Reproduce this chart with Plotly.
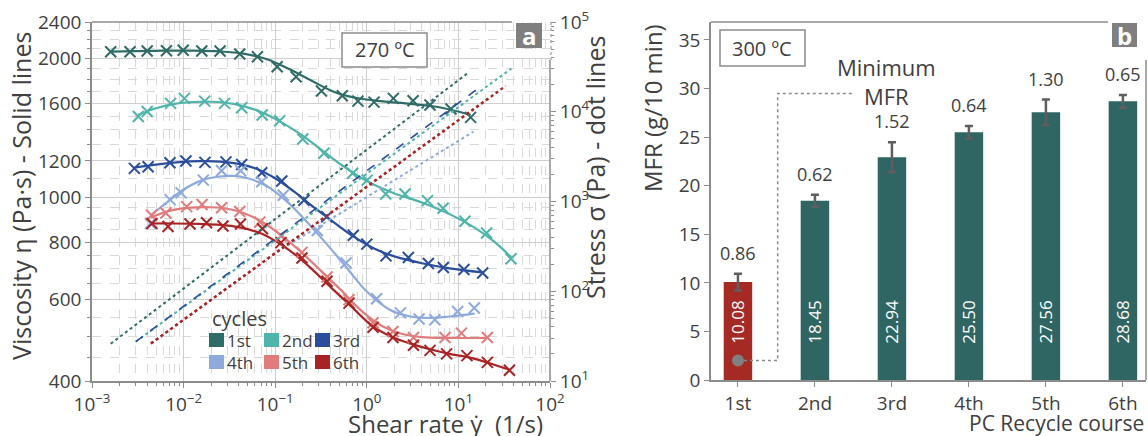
import plotly.graph_objects as go
import numpy as np

W, H = 1148, 436

# ---------------- Panel a: viscosity (markers = measured, lines = smooth fit) ----------------
cycles = ["1st", "2nd", "3rd", "4th", "5th", "6th"]
colors = ["#2f6b67", "#4fb4aa", "#2b4e9c", "#8eaadc", "#e07c7c", "#a82424"]

c1_x = [0.0016, 0.0026, 0.0040, 0.0065, 0.0099, 0.0158, 0.025, 0.041, 0.064, 0.105, 0.169, 0.32, 0.54, 0.80, 1.2, 1.95, 3.2, 4.9, 8.3, 13.6]
c1_eta = [2069, 2069, 2076, 2080, 2084, 2076, 2076, 2046, 2018, 1920, 1826, 1701, 1661, 1617, 1609, 1639, 1620, 1586, 1554, 1491]
c2_x = [0.0032, 0.0040, 0.0072, 0.0102, 0.017, 0.028, 0.043, 0.072, 0.112, 0.20, 0.34, 0.70, 1.01, 1.61, 2.61, 4.59, 6.8, 11.8, 20.3, 37.5]
c2_eta = [1497, 1535, 1599, 1639, 1617, 1599, 1565, 1509, 1466, 1338, 1247, 1128, 1090, 1017, 1017, 984, 947, 888, 837, 736]
c3_x = [0.0029, 0.0041, 0.0071, 0.0106, 0.0171, 0.029, 0.0431, 0.0713, 0.118, 0.206, 0.365, 0.713, 1.0, 1.62, 2.84, 4.7, 6.85, 11.5, 18.4]
c3_eta = [1156, 1165, 1189, 1199, 1191, 1194, 1179, 1131, 1085, 986, 908, 828, 792, 747, 741, 719, 705, 698, 686]
c4_x = [0.00435, 0.0071, 0.0094, 0.0164, 0.026, 0.042, 0.0713, 0.1225, 0.288, 0.593, 1.28, 2.33, 3.72, 5.53, 9.82, 14.9]
c4_eta = [878, 989, 1023, 1090, 1142, 1142, 1081, 1011, 848, 721, 603, 562, 545, 543, 566, 576]
c5_x = [0.00447, 0.0064, 0.0108, 0.0159, 0.026, 0.041, 0.068, 0.116, 0.196, 0.368, 0.64, 1.17, 1.93, 3.23, 7.14, 10.8, 20.7]
c5_eta = [915, 925, 955, 965, 950, 932, 884, 825, 760, 672, 600, 535, 512, 497, 497, 508, 497]
c6_x = [0.00452, 0.00676, 0.01175, 0.0178, 0.0269, 0.0418, 0.0726, 0.1156, 0.196, 0.368, 0.64, 1.17, 1.93, 3.23, 4.9, 7.43, 12.4, 20.7, 36.1]
c6_eta = [878, 865, 876, 881, 867, 876, 855, 798, 739, 658, 590, 523, 497, 478, 466, 458, 454, 439, 422]

f1_x = [0.0016, 0.003, 0.006, 0.012, 0.025, 0.045, 0.08, 0.14, 0.25, 0.45, 0.8, 1.5, 3, 6, 13.6]
f1_eta = [2070, 2075, 2080, 2080, 2072, 2050, 1995, 1900, 1790, 1690, 1640, 1615, 1595, 1570, 1510]
f2_x = [0.0032, 0.005, 0.008, 0.013, 0.02, 0.035, 0.06, 0.1, 0.18, 0.3, 0.5, 1, 2, 4, 8, 15, 25, 38]
f2_eta = [1510, 1560, 1595, 1610, 1612, 1595, 1550, 1480, 1380, 1280, 1185, 1085, 1020, 975, 920, 860, 800, 740]
f3_x = [0.0029, 0.005, 0.009, 0.015, 0.025, 0.04, 0.065, 0.1, 0.16, 0.25, 0.4, 0.7, 1.2, 2, 4, 8, 18.4]
f3_eta = [1160, 1178, 1192, 1198, 1196, 1182, 1150, 1100, 1030, 960, 895, 825, 775, 745, 720, 702, 688]
f4_x = [0.0044, 0.007, 0.01, 0.016, 0.025, 0.035, 0.05, 0.08, 0.13, 0.2, 0.35, 0.6, 1.0, 1.8, 3, 5, 8, 15]
f4_eta = [915, 985, 1040, 1090, 1110, 1113, 1100, 1060, 985, 905, 800, 705, 625, 570, 552, 548, 552, 560]
f5_x = [0.0044, 0.007, 0.012, 0.02, 0.03, 0.045, 0.07, 0.11, 0.18, 0.3, 0.5, 0.9, 1.5, 2.5, 4, 8, 20.7]
f5_eta = [905, 935, 950, 952, 945, 925, 888, 835, 770, 700, 635, 565, 525, 505, 498, 496, 496]
f6_x = [0.0045, 0.008, 0.015, 0.025, 0.04, 0.065, 0.1, 0.16, 0.25, 0.4, 0.65, 1.1, 1.8, 3, 5, 8, 13, 22, 36]
f6_eta = [878, 878, 876, 872, 862, 840, 805, 755, 700, 640, 585, 530, 500, 482, 468, 458, 450, 437, 423]

# stress (dotted lines, right axis)
s1_x, s1_sig = [0.0016, 12.4], [26, 26500]
s2_x, s2_sig = [0.003, 37.8], [27.4, 30200]
s3_x, s3_sig = [0.003, 17.9], [27.4, 19400]
s4_x, s4_sig = [0.0044, 0.105, 14.6], [26.2, 274, 6000]
s5_x, s5_sig = [0.0044, 20.7], [26.2, 13800]
s6_x, s6_sig = [0.0044, 32.8], [26.2, 19400]

eta_ticks = [400, 600, 800, 1000, 1200, 1600, 2000, 2400]
x_ticks = [1e-3, 1e-2, 1e-1, 1e0, 1e1, 1e2]
x_ticktext = ["10<sup>−3</sup>", "10<sup>−2</sup>", "10<sup>−1</sup>", "10<sup>0</sup>", "10<sup>1</sup>", "10<sup>2</sup>"]
sig_ticks = [1e1, 1e2, 1e3, 1e4, 1e5]
sig_ticktext = ["10<sup>1</sup>", "10<sup>2</sup>", "10<sup>3</sup>", "10<sup>4</sup>", "10<sup>5</sup>"]

# ---------------- Panel b: MFR ----------------
mfr_cat = ["1st", "2nd", "3rd", "4th", "5th", "6th"]
mfr_val = [10.08, 18.45, 22.94, 25.50, 27.56, 28.68]
mfr_err = [0.86, 0.62, 1.52, 0.64, 1.30, 0.65]
mfr_colors = ["#a52a24", "#2f6663", "#2f6663", "#2f6663", "#2f6663", "#2f6663"]
min_path_x = [0, 0.516, 0.516, 1.48]
min_path_y = [2, 2, 29.5, 29.5]

TXT = "#404040"
AX = "#8c8c8c"
FONT = "Open Sans"

def px(x):
    return x / W

def py(y):
    return 1 - y / H

fig = go.Figure()

fits = [(f1_x, f1_eta), (f2_x, f2_eta), (f3_x, f3_eta), (f4_x, f4_eta), (f5_x, f5_eta), (f6_x, f6_eta)]
meas = [(c1_x, c1_eta), (c2_x, c2_eta), (c3_x, c3_eta), (c4_x, c4_eta), (c5_x, c5_eta), (c6_x, c6_eta)]
stress = [(s1_x, s1_sig), (s2_x, s2_sig), (s3_x, s3_sig), (s4_x, s4_sig), (s5_x, s5_sig), (s6_x, s6_sig)]
dashes = ["dot", "dot", "dash", "dot", "dot", "dot"]
swidth = [2, 2, 1.6, 2, 2.4, 2.4]

for i in range(6):
    fx, fy = fits[i]
    fig.add_trace(go.Scatter(x=fx, y=fy, mode="lines", line=dict(color=colors[i], width=2.2, shape="spline", smoothing=1.0),
                             xaxis="x", yaxis="y", hoverinfo="skip"))
for i in range(6):
    mx, my = meas[i]
    fig.add_trace(go.Scatter(x=mx, y=my, mode="markers",
                             marker=dict(symbol="x-thin", size=11, color=colors[i], line=dict(width=2, color=colors[i])),
                             xaxis="x", yaxis="y", name=cycles[i]))
for i in [0, 1, 3, 4, 5, 2]:
    sx, sy = stress[i]
    fig.add_trace(go.Scatter(x=sx, y=sy, mode="lines", line=dict(color=colors[i], width=swidth[i], dash=dashes[i]),
                             xaxis="x", yaxis="y2", hoverinfo="skip"))

# bars
fig.add_trace(go.Bar(x=list(range(6)), y=mfr_val, width=0.37, marker=dict(color=mfr_colors, line=dict(width=0)),
                     error_y=dict(type="data", array=mfr_err, visible=True, color="#5e5e5e", thickness=2.5, width=4),
                     xaxis="x3", yaxis="y3"))
fig.add_trace(go.Scatter(x=min_path_x, y=min_path_y, mode="lines", line=dict(color="#8a8a8a", width=1.5, dash="dot"),
                         xaxis="x3", yaxis="y3", hoverinfo="skip"))
fig.add_trace(go.Scatter(x=[min_path_x[0]], y=[min_path_y[0]], mode="markers", marker=dict(size=12, color="#808080"),
                         xaxis="x3", yaxis="y3", hoverinfo="skip"))

x_minor = [k * 10.0 ** d for d in range(-3, 2) for k in range(2, 10)]
eta_minor = [v for v in list(range(450, 1000, 50)) + list(range(1100, 2400, 100)) if v not in eta_ticks]
sig_minor = [k * 10.0 ** d for d in range(1, 5) for k in range(2, 10)]

tickfont = dict(family=FONT, size=19, color=TXT)

fig.update_layout(
    width=W, height=H, margin=dict(l=0, r=0, t=0, b=0, autoexpand=False),
    paper_bgcolor="white", plot_bgcolor="white", showlegend=False,
    font=dict(family=FONT, size=19, color=TXT),
    xaxis=dict(type="log", range=[-3, 2], domain=[px(92), px(550)], anchor="y", automargin=False,
               tickvals=x_ticks, ticktext=x_ticktext, tickfont=tickfont,
               ticks="outside", ticklen=5, tickcolor=AX, showline=True, linecolor=AX, linewidth=1.5,
               showgrid=True, gridcolor="#cfcfcf", gridwidth=1, zeroline=False,
               minor=dict(tickvals=x_minor, ticks="outside", ticklen=3, tickcolor=AX, showgrid=True,
                          gridcolor="#d9d9d9", griddash="dash")),
    yaxis=dict(type="log", range=[np.log10(400), np.log10(2400)], domain=[py(381), py(22)], anchor="x", automargin=False,
               tickvals=eta_ticks, ticktext=[str(v) for v in eta_ticks], tickfont=tickfont,
               ticks="outside", ticklen=5, tickcolor=AX, showline=True, linecolor=AX, linewidth=1.5,
               showgrid=True, gridcolor="#cfcfcf", gridwidth=1, zeroline=False,
               minor=dict(tickvals=eta_minor, ticks="outside", ticklen=3, tickcolor=AX, showgrid=True,
                          gridcolor="#d9d9d9", griddash="dash")),
    yaxis2=dict(type="log", range=[1, 5], overlaying="y", side="right", anchor="x", automargin=False,
                tickvals=sig_ticks, ticktext=sig_ticktext, tickfont=tickfont,
                ticks="outside", ticklen=5, tickcolor=AX, showline=False, showgrid=False, zeroline=False,
                minor=dict(tickvals=sig_minor, ticks="outside", ticklen=3, tickcolor=AX, showgrid=False)),
    xaxis3=dict(range=[-0.35, 5.3], domain=[px(711), px(1146)], anchor="y3", automargin=False,
                tickvals=list(range(6)), ticktext=mfr_cat, tickfont=tickfont,
                ticks="outside", ticklen=5, tickcolor=AX, showline=True, linecolor=AX, linewidth=1.5,
                showgrid=False, zeroline=False),
    yaxis3=dict(range=[0, 36.85], domain=[py(380), py(22)], anchor="x3", dtick=5, tickfont=tickfont, automargin=False,
                ticks="outside", ticklen=5, tickcolor=AX, showline=True, linecolor=AX, linewidth=1.5,
                showgrid=False, zeroline=False),
)

shapes = []
ann = []

def line_px(x0, y0, x1, y1, color=AX, width=1.5, dash="solid"):
    shapes.append(dict(type="line", xref="paper", yref="paper", x0=px(x0), y0=py(y0), x1=px(x1), y1=py(y1),
                       line=dict(color=color, width=width, dash=dash)))

def rect_px(x0, y0, x1, y1, fill="white", lc=AX, lw=1.5):
    shapes.append(dict(type="rect", xref="paper", yref="paper", x0=px(x0), y0=py(y0), x1=px(x1), y1=py(y1),
                       fillcolor=fill, line=dict(color=lc, width=lw)))

def text_px(x, y, t, size=19, color=TXT, angle=0, xanchor="center", yanchor="middle", bold=False):
    if bold:
        t = "<b>" + t + "</b>"
    ann.append(dict(xref="paper", yref="paper", x=px(x), y=py(y), text=t, showarrow=False, textangle=angle,
                    xanchor=xanchor, yanchor=yanchor, font=dict(family=FONT, size=size, color=color)))

# panel a frame pieces
line_px(92, 22, 512, 22)
line_px(550, 60, 550, 381)
line_px(551, 22, 551, 60, color="#9a9a9a", width=1.2, dash="dot")
rect_px(342, 33, 427, 67)
text_px(385, 50, "270 ºC", size=20)
rect_px(516, 23, 542, 48, fill="#7f7f7f", lc="#7f7f7f", lw=0)
text_px(529, 35.5, "a", size=24, color="white", bold=True)

# panel b frame pieces
line_px(711, 22, 1108, 22)
line_px(1146, 60, 1146, 380)
rect_px(720, 30, 805, 66)
text_px(762, 48, "300 ºC", size=20)
rect_px(1112, 23, 1137, 47, fill="#7f7f7f", lc="#7f7f7f", lw=0)
text_px(1124.5, 35, "b", size=24, color="white", bold=True)

# axis titles
text_px(21, 196, "Viscosity η (Pa·s) - Solid lines", size=25, angle=-90)
text_px(595, 168, "Stress σ (Pa) - dot lines", size=25, angle=-90)
text_px(545, 423, "Shear rate γ̇  (1/s)", size=24, xanchor="right")
text_px(652, 108, "MFR (g/10 min)", size=24, angle=-90)
text_px(1146, 423, "PC Recycle course", size=21, xanchor="right")

# legend (manual)
text_px(239, 318, "cycles", size=20)
leg_pos = [(209, 340), (264, 340), (315, 340), (209, 362), (264, 362), (315, 362)]
for i, (lx, ly) in enumerate(leg_pos):
    rect_px(lx, ly - 7, lx + 15, ly + 7, fill=colors[i], lc=colors[i], lw=0)
    text_px(lx + 16, ly, cycles[i], size=17, xanchor="left")

# bar annotations
for i in range(6):
    ann.append(dict(xref="x3", yref="y3", x=i, y=mfr_val[i] + mfr_err[i], text=f"{mfr_err[i]:.2f}", showarrow=False,
                    yanchor="bottom", yshift=7, font=dict(family=FONT, size=18, color=TXT)))
    ann.append(dict(xref="x3", yref="y3", x=i, y=6.0, text=f"{mfr_val[i]:.2f}", showarrow=False, textangle=-90,
                    font=dict(family=FONT, size=17, color="white")))
ann.append(dict(xref="x3", yref="y3", x=1.93, y=30.7, text="Minimum<br>MFR", showarrow=False,
                font=dict(family=FONT, size=22, color=TXT)))

fig.update_layout(shapes=shapes, annotations=ann)
fig.write_html("out.html", config={"displayModeBar": False},
               post_script="document.body.style.margin='0px';document.body.style.overflow='hidden';")
